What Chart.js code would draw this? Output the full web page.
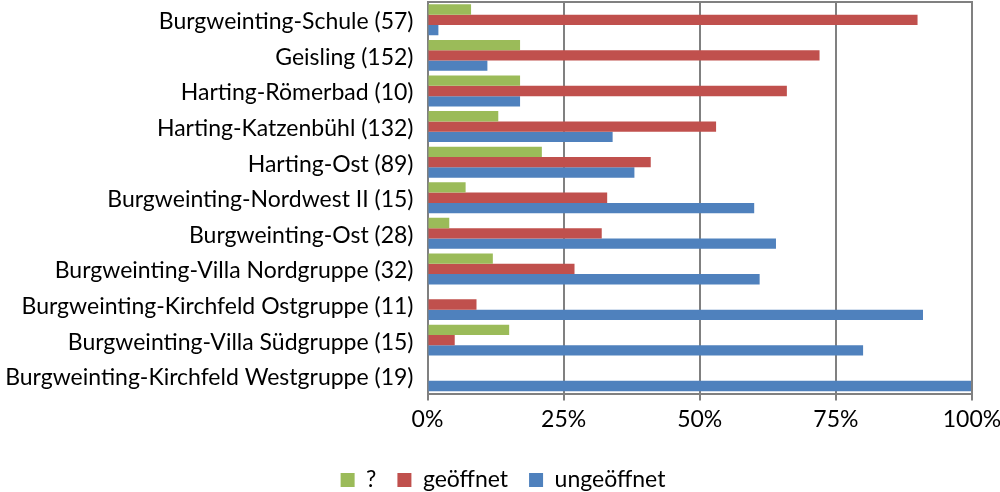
<!DOCTYPE html>
<html>
<head>
<meta charset="utf-8">
<script src="https://cdn.jsdelivr.net/npm/chart.js@4"></script>
<style>
  html, body { margin: 0; padding: 0; background: #fff; }
  #wrap { width: 1000px; height: 492px; }
</style>
</head>
<body>
<div id="wrap"><canvas id="c"></canvas></div>
<script>
const categories = [
  "Burgweinting-Schule (57)",
  "Geisling (152)",
  "Harting-Römerbad (10)",
  "Harting-Katzenbühl (132)",
  "Harting-Ost (89)",
  "Burgweinting-Nordwest II (15)",
  "Burgweinting-Ost (28)",
  "Burgweinting-Villa Nordgruppe (32)",
  "Burgweinting-Kirchfeld Ostgruppe (11)",
  "Burgweinting-Villa Südgruppe (15)",
  "Burgweinting-Kirchfeld Westgruppe (19)"
];
const seriesNames = ["?", "geöffnet", "ungeöffnet"];
const unknown   = [8, 17, 17, 13, 21, 7, 4, 12, 0, 15, 0];
const opened    = [90, 72, 66, 53, 41, 33, 32, 27, 9, 5, 0];
const unopened  = [2, 11, 17, 34, 38, 60, 64, 61, 91, 80, 100];
const xTicks = [0, 25, 50, 75, 100];

const FONT = "Lato, 'Open Sans', sans-serif";
const gridColor = "#808080";

const borderPlugin = {
  id: "plotBorder",
  afterDraw(chart) {
    const a = chart.chartArea, ctx = chart.ctx;
    ctx.save();
    ctx.strokeStyle = gridColor;
    ctx.lineWidth = 2;
    ctx.beginPath();
    ctx.moveTo(a.left, a.top);
    ctx.lineTo(a.right, a.top);
    ctx.lineTo(a.right, a.bottom);
    ctx.stroke();
    ctx.restore();
  }
};

new Chart(document.getElementById("c"), {
  type: "bar",
  data: {
    labels: categories,
    datasets: [
      { label: seriesNames[0], data: unknown,  backgroundColor: "#9BBB59" },
      { label: seriesNames[1], data: opened,   backgroundColor: "#C0504D" },
      { label: seriesNames[2], data: unopened, backgroundColor: "#4F81BD" }
    ]
  },
  options: {
    indexAxis: "y",
    responsive: true,
    maintainAspectRatio: false,
    animation: false,
    layout: { padding: { top: 2, right: 0, left: 6, bottom: -9.5 } },
    datasets: { bar: { categoryPercentage: 0.87, barPercentage: 1.0, borderWidth: 0 } },
    scales: {
      x: {
        min: 0, max: 100,
        afterBuildTicks(scale) { scale.ticks = xTicks.map(v => ({ value: v })); },
        ticks: {
          callback: v => v + "%",
          color: "#000",
          font: { family: FONT, size: 23 },
          padding: 5,
          maxRotation: 0
        },
        grid: { color: gridColor, lineWidth: 2, tickLength: 7, tickColor: gridColor },
        border: { color: gridColor, width: 2 },
        afterFit(scale) {
          scale.height = 54;
          scale.paddingRight = 28;
          scale.paddingLeft = 0;
        }
      },
      y: {
        ticks: {
          color: "#000",
          font: { family: FONT, size: 23 },
          padding: 14,
          labelOffset: 2,
          autoSkip: false
        },
        grid: { display: false, drawTicks: false },
        border: { color: gridColor, width: 2 },
        afterFit(scale) {
          scale.width = 421.5;
          scale.paddingTop = 0;
          scale.paddingBottom = 0;
        }
      }
    },
    plugins: {
      legend: {
        position: "bottom",
        labels: {
          color: "#000",
          font: { family: FONT, size: 23 },
          boxWidth: 14,
          boxHeight: 14,
          padding: 21
        }
      },
      tooltip: { enabled: false }
    }
  },
  plugins: [borderPlugin]
});
</script>
</body>
</html>
